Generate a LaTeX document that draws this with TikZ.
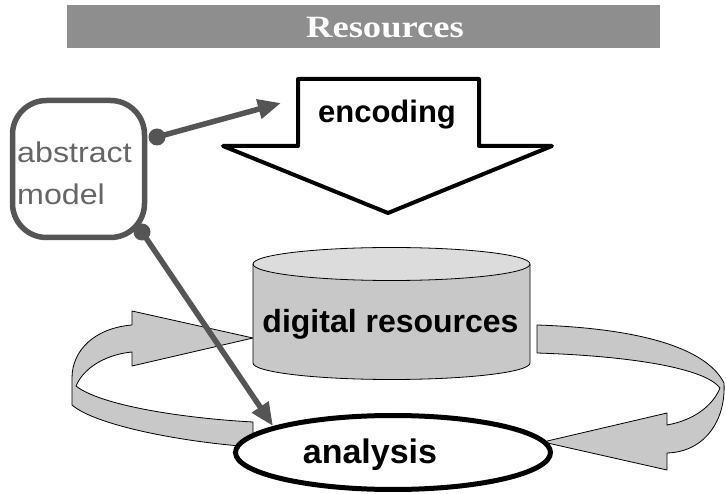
\documentclass[tikz,border=0pt]{standalone}
\usepackage{fontspec}
\setmainfont{Liberation Sans}
\newfontfamily\titlefont{Liberation Serif}
\usetikzlibrary{arrows.meta}
\definecolor{bargray}{HTML}{8E8E8E}
\definecolor{linkgray}{HTML}{555555}
\definecolor{ribbongray}{HTML}{C8C8C8}
\definecolor{topgray}{HTML}{DCDCDC}
\definecolor{textgray}{HTML}{666666}
\begin{document}
\begin{tikzpicture}[x=1pt,y=-1pt,
  ribbon/.style={fill=ribbongray, draw=black, line width=0.8pt, line join=round},
  cylline/.style={draw=black, line width=0.8pt},
  encarrow/.style={draw=black, fill=white, line width=4pt, line join=round},
  modelbox/.style={draw=linkgray, line width=5.5pt, rounded corners=34pt, minimum width=132pt, minimum height=137pt, inner sep=0pt},
  modeltext/.style={text=textgray, font=\fontsize{28.5}{28.5}\selectfont, anchor=base west, inner sep=0pt},
  linkarrow/.style={draw=linkgray, line width=5.5pt, -{Triangle[length=23pt,width=19pt]}},
  linkdot/.style={circle, fill=linkgray, minimum size=17pt, inner sep=0pt},
  bigtext/.style={font=\bfseries\fontsize{#1}{#1}\selectfont, anchor=base, inner sep=0pt},
  bar/.style={fill=bargray, minimum width=593pt, minimum height=43pt, inner sep=0pt}
]
\useasboundingbox (0,0) rectangle (726,494);

% title bar
\node[bar] (bar) at (363.5,26.5) {};
\node[font=\titlefont\bfseries\fontsize{31}{31}\selectfont, text=white, anchor=base, inner sep=0pt] (title) at (385,37.5) {\scalebox{1.18}[1]{Resources}};

% encoding arrow
\draw[encarrow] (298,79) -- (479,79) -- (479,146) -- (552,146) -- (388,213) -- (223,146) -- (298,146) -- cycle;
\node[bigtext=31] (enc) at (387,123) {encoding};

% left ribbon
\draw[ribbon] (253,422) .. controls (180,418) and (100,405) .. (76,386)
  .. controls (85,365) and (110,354) .. (132,352)
  -- (132,366) -- (253,338) -- (132,311) -- (132,325)
  .. controls (95,328) and (72,350) .. (72,378)
  -- (72,405)
  .. controls (95,425) and (180,442) .. (253,447) -- cycle;

% right ribbon
\draw[ribbon] (537,325) .. controls (630,328) and (705,345) .. (724,383)
  .. controls (726,420) and (705,452) .. (667,453)
  -- (667,470) -- (543,442) -- (667,413) -- (667,425)
  .. controls (695,420) and (713,405) .. (720,388)
  .. controls (705,368) and (630,356) .. (537,353) -- cycle;

% cylinder
\path[fill=ribbongray] (253,264) -- (253,363) arc[start angle=180, end angle=0, x radius=138.5, y radius=16.5] -- (530,264) -- cycle;
\draw[cylline] (253,264) -- (253,363) arc[start angle=180, end angle=0, x radius=138.5, y radius=16.5] -- (530,264);
\draw[cylline, fill=topgray] (391.5,264) ellipse[x radius=138.5, y radius=16.5];
\node[bigtext=32] (dr) at (390.5,333) {digital resources};

% analysis
\draw[black, line width=5pt, fill=white] (393,452.5) ellipse[x radius=157.5, y radius=37];
\node[bigtext=34] (an) at (370,463) {analysis};

% abstract model
\node[modelbox] (model) at (78.5,169) {};
\node[modeltext] (mt1) at (17,163) {\scalebox{1.13}[1]{abstract}};
\node[modeltext] (mt2) at (17,205) {\scalebox{1.13}[1]{model}};

\node[linkdot] (d1) at (157,137) {};
\node[linkdot] (d2) at (142,232) {};
\coordinate (e1) at (281,103);
\coordinate (e2) at (273,426);
\draw[linkarrow] (d1.center) -- (e1);
\draw[linkarrow] (d2.center) -- (e2);
\end{tikzpicture}
\end{document}
